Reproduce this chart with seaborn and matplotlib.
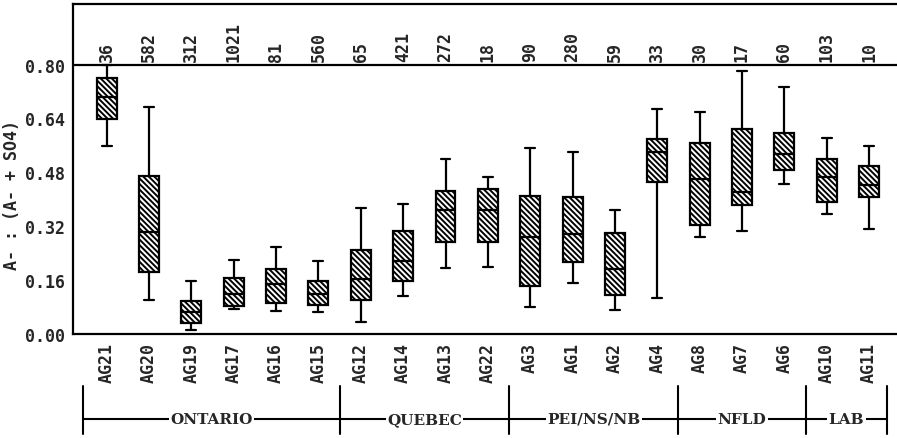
import numpy as np
import pandas as pd
import matplotlib
matplotlib.use("Agg")
import matplotlib.pyplot as plt
import seaborn as sns

sites = ["AG21", "AG20", "AG19", "AG17", "AG16", "AG15", "AG12", "AG14", "AG13",
         "AG22", "AG3", "AG1", "AG2", "AG4", "AG8", "AG7", "AG6", "AG10", "AG11"]
counts = [36, 582, 312, 1021, 81, 560, 65, 421, 272, 18, 90, 280, 59, 33, 30, 17, 60, 103, 10]
w_low = [0.559, 0.102, 0.012, 0.074, 0.069, 0.066, 0.037, 0.112, 0.196, 0.200,
         0.079, 0.152, 0.071, 0.107, 0.289, 0.305, 0.446, 0.357, 0.312]
q1 = [0.639, 0.185, 0.032, 0.084, 0.091, 0.086, 0.101, 0.157, 0.274, 0.274,
      0.142, 0.215, 0.116, 0.451, 0.325, 0.384, 0.488, 0.393, 0.406]
med = [0.703, 0.302, 0.064, 0.119, 0.148, 0.119, 0.163, 0.218, 0.368, 0.369,
       0.289, 0.297, 0.193, 0.540, 0.460, 0.423, 0.535, 0.466, 0.443]
q3 = [0.760, 0.470, 0.097, 0.165, 0.193, 0.158, 0.248, 0.307, 0.426, 0.431,
      0.411, 0.406, 0.300, 0.579, 0.567, 0.609, 0.597, 0.520, 0.500]
w_high = [0.800, 0.673, 0.157, 0.221, 0.259, 0.217, 0.375, 0.387, 0.521, 0.466,
          0.552, 0.540, 0.369, 0.668, 0.659, 0.782, 0.735, 0.583, 0.559]
regions = ["ONTARIO", "QUEBEC", "PEI/NS/NB", "NFLD", "LAB"]
region_sizes = [6, 4, 4, 3, 2]
yticks = [0.00, 0.16, 0.32, 0.48, 0.64, 0.80]

rows = []
for s, a, b, c, d, e in zip(sites, w_low, q1, med, q3, w_high):
    for v in (a, b, c, d, e):
        rows.append({"site": s, "ratio": v})
df = pd.DataFrame(rows)

sns.set_theme(style="white")
MONO = ["DejaVu Sans Mono"]
plt.rcParams["font.family"] = MONO
plt.rcParams["font.weight"] = "bold"
plt.rcParams["hatch.linewidth"] = 1.4
plt.rcParams["hatch.color"] = "black"
FS = 12

fig = plt.figure(figsize=(8.97, 4.39), dpi=100)
ax = fig.add_axes([73 / 897, (439 - 335) / 439, 1 - 73 / 897, 330 / 439])

sns.boxplot(data=df, x="site", y="ratio", order=sites, whis=(0, 100),
            width=0.47, color="white", linecolor="black", linewidth=1.6,
            fliersize=0, ax=ax)
for p in ax.patches:
    p.set_hatch("\\" * 6)
    p.set_facecolor("white")
    p.set_edgecolor("black")

ax.set_xlim(-0.795, 18.66)
ax.set_ylim(0, 0.98)
ax.set_yticks(yticks)
ax.set_yticklabels([f"{t:.2f}" for t in yticks], fontsize=FS, fontweight="bold",
                   family=MONO)
ax.set_xticks(range(len(sites)))
ax.set_xticklabels(sites, rotation=90, fontsize=FS, fontweight="bold", family=MONO)
ax.tick_params(axis="x", length=0, pad=6)
ax.tick_params(axis="y", direction="inout", length=7, width=1.5, pad=2, color="black")
ax.set_xlabel("")
ax.set_ylabel("")
for side in ("left", "bottom", "top"):
    ax.spines[side].set_visible(True)
    ax.spines[side].set_color("black")
    ax.spines[side].set_linewidth(1.6)
ax.spines["right"].set_visible(False)
ax.axhline(0.80, color="black", lw=1.6, zorder=1)

for i, c in enumerate(counts):
    ax.text(i, 0.812, str(c), rotation=90, ha="center", va="bottom",
            fontsize=FS, fontweight="bold", family=MONO)

fig.text(12 / 897, 1 - 195 / 439, "A- : (A- + SO4)", rotation=90, ha="center",
         va="center", fontsize=FS, fontweight="bold", family=MONO)

trans = ax.get_xaxis_transform()
y_line = (335 - 420) / 330
y_top = (335 - 387) / 330
y_bot = (335 - 435) / 330
bounds = [-0.56]
pos = -0.5
for n in region_sizes:
    pos += n
    bounds.append(pos)
bounds[-1] = 18.43
for x in bounds:
    ax.plot([x, x], [y_top, y_bot], transform=trans, color="black", lw=1.5,
            clip_on=False)
ax.plot([bounds[0], bounds[-1]], [y_line, y_line], transform=trans, color="black",
        lw=1.5, clip_on=False)
for name, a, b in zip(regions, bounds[:-1], bounds[1:]):
    ax.text((a + b) / 2, y_line, name, transform=trans, ha="center", va="center",
            fontsize=11, fontweight="bold", family=["DejaVu Serif"],
            bbox=dict(facecolor="white", edgecolor="none", pad=1.0), clip_on=False)

fig.savefig("out.png", dpi=100)
